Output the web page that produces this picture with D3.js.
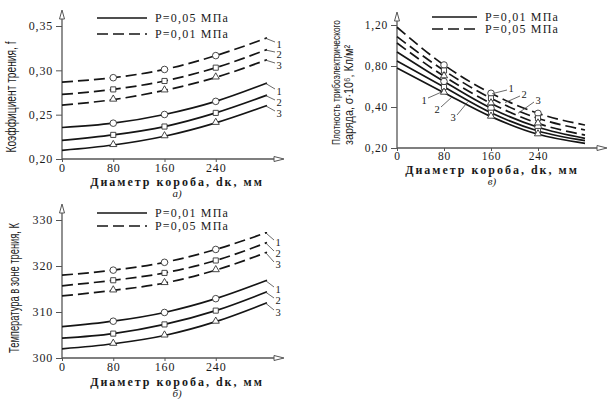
<!DOCTYPE html>
<html>
<head>
<meta charset="utf-8">
<script src="https://cdn.jsdelivr.net/npm/d3@7"></script>
<style>
  body { margin: 0; background: #fff; }
  text { fill: #1a1a1a; }
</style>
</head>
<body>
<svg id="chart" width="615" height="399"></svg>
<script>
// box diameter, mm
var dk = [0, 80, 160, 240, 320];
var xTicks = [0, 80, 160, 240];
var markerDk = [80, 160, 240];

// a) friction coefficient f, curves 1..3
var frictionP005 = [
  [0.2355, 0.2404, 0.2502, 0.2650, 0.2857],
  [0.2211, 0.2272, 0.2366, 0.2520, 0.2720],
  [0.2098, 0.2158, 0.2257, 0.2408, 0.2604]
];
var frictionP001 = [
  [0.2868, 0.2917, 0.3010, 0.3166, 0.3366],
  [0.2728, 0.2785, 0.2880, 0.3030, 0.3234],
  [0.2608, 0.2670, 0.2774, 0.2920, 0.3120]
];
var frictionTicks = [0.20, 0.25, 0.30, 0.35];

// б) temperature in the friction zone, K
var tempP001 = [
  [306.8, 308.0, 309.9, 312.9, 316.9],
  [304.3, 305.3, 307.3, 310.3, 314.4],
  [302.0, 303.1, 304.9, 307.9, 312.0]
];
var tempP005 = [
  [318.0, 319.1, 320.8, 323.6, 327.3],
  [315.7, 316.9, 318.5, 321.2, 325.1],
  [313.5, 314.7, 316.3, 319.1, 323.0]
];
var tempTicks = [300, 310, 320, 330];

// в) triboelectric charge density, sigma*10^6, C/m^2
var chargeP001 = [
  [0.937, 0.649, 0.394, 0.301, 0.247],
  [0.849, 0.595, 0.372, 0.283, 0.236],
  [0.780, 0.540, 0.353, 0.267, 0.223]
];
var chargeP005 = [
  [1.178, 0.810, 0.534, 0.369, 0.312],
  [1.086, 0.756, 0.485, 0.345, 0.288],
  [1.024, 0.700, 0.436, 0.320, 0.263]
];
var chargeTicks = [0.20, 0.40, 0.80, 1.20];

var curveNames = ["1", "2", "3"];

var svg = d3.select("#chart");
var serif = "'Liberation Serif', 'DejaVu Serif', serif";
var narrow = "'Liberation Sans Narrow', 'Liberation Sans', sans-serif";
var ink = "#151515";

function comma(d) { return d3.format(".2f")(d).replace(".", ","); }

function interp(values, x) {
  var i = d3.bisectRight(dk, x) - 1;
  if (i >= dk.length - 1) i = dk.length - 2;
  var t = (x - dk[i]) / (dk[i + 1] - dk[i]);
  return values[i] + t * (values[i + 1] - values[i]);
}

function drawPanel(p) {
  var g = svg.append("g");
  var x = d3.scaleLinear().domain([0, 320]).range([p.x0, p.x1]);
  var y = d3.scaleLinear().domain(p.yDomain).range(p.yRange);
  var y0 = p.yRange[0];

  // axes
  var ya = g.append("g")
    .attr("transform", "translate(" + p.x0 + ",0)")
    .call(d3.axisLeft(y).tickValues(p.yTicks).tickFormat(p.yFormat)
      .tickSizeInner(6).tickSizeOuter(0).tickPadding(3));
  var xa = g.append("g")
    .attr("transform", "translate(0," + y0 + ")")
    .call(d3.axisBottom(x).tickValues(xTicks).tickFormat(d3.format("d"))
      .tickSizeInner(3).tickSizeOuter(0).tickPadding(p.xPad));
  [ya, xa].forEach(function(a) {
    a.select(".domain").remove();
    a.selectAll("line").attr("stroke", "#555");
    a.selectAll("text").attr("font-family", serif).attr("font-size", p.tickSize)
      .attr("letter-spacing", 0.8).attr("fill", "#333");
  });
  g.append("line").attr("x1", p.x0).attr("x2", p.x0).attr("y1", y0).attr("y2", p.yTop + 8)
    .attr("stroke", "#555").attr("stroke-width", 1.3);
  g.append("line").attr("x1", p.x0).attr("x2", p.xEnd - 8).attr("y1", y0).attr("y2", y0)
    .attr("stroke", "#555").attr("stroke-width", 1.3);
  g.append("path")
    .attr("d", "M" + (p.x0 - 2.5) + "," + (p.yTop + 9) + "L" + p.x0 + "," + p.yTop + "L" + (p.x0 + 2.5) + "," + (p.yTop + 9) + "Z")
    .attr("fill", "#fff").attr("stroke", "#555").attr("stroke-width", 1);
  g.append("path")
    .attr("d", "M" + (p.xEnd - 10) + "," + (y0 - 2.5) + "L" + p.xEnd + "," + y0 + "L" + (p.xEnd - 10) + "," + (y0 + 2.5) + "Z")
    .attr("fill", "#fff").attr("stroke", "#555").attr("stroke-width", 1);

  var line = d3.line()
    .x(function(d, i) { return x(dk[i]); })
    .y(function(d) { return y(d); })
    .curve(d3.curveMonotoneX);

  function series(data, dashed) {
    g.selectAll(null).data(data).enter().append("path")
      .attr("d", line)
      .attr("fill", "none")
      .attr("stroke", ink)
      .attr("stroke-width", 1.7)
      .attr("stroke-dasharray", dashed ? "11,5" : null);
    data.forEach(function(vals, k) {
      markerDk.forEach(function(m) {
        var cx = x(m), cy = y(vals[dk.indexOf(m)]);
        var s = g.append("path").attr("fill", "#fff").attr("stroke", "#333").attr("stroke-width", 0.9);
        if (k === 0) s.attr("d", d3.symbol(d3.symbolCircle, 34)()).attr("transform", "translate(" + cx + "," + cy + ")");
        if (k === 1) s.attr("d", d3.symbol(d3.symbolSquare, 26)()).attr("transform", "translate(" + cx + "," + cy + ")");
        if (k === 2) s.attr("d", d3.symbol(d3.symbolTriangle, 22)()).attr("transform", "translate(" + cx + "," + (cy - 0.5) + ")");
      });
    });
  }
  series(p.solid, false);
  series(p.dashed, true);

  // curve labels with leaders
  p.leaders.forEach(function(l) {
    var data = l.dashed ? p.dashed : p.solid;
    var tx = x(l.at), ty = y(interp(data[l.curve], l.at));
    g.append("line").attr("x1", tx).attr("y1", ty).attr("x2", l.lx + l.ax).attr("y2", l.ly + l.ay)
      .attr("stroke", "#444").attr("stroke-width", 0.8);
    g.append("text").attr("x", l.lx).attr("y", l.ly + 3.5)
      .attr("text-anchor", "middle").attr("font-family", serif).attr("font-size", 10.5)
      .text(curveNames[l.name]);
  });

  // legend
  p.legend.forEach(function(item, i) {
    var ly = p.legY + i * p.legStep;
    g.append("line").attr("x1", p.legX).attr("x2", p.legX + p.legW).attr("y1", ly).attr("y2", ly)
      .attr("stroke", ink).attr("stroke-width", 1.7)
      .attr("stroke-dasharray", item.dashed ? "11,5" : null);
    g.append("text").attr("x", p.legX + p.legW + 8).attr("y", ly + 4)
      .attr("font-family", serif).attr("font-size", 12).attr("letter-spacing", 1.2)
      .text(item.label);
  });

  // titles
  g.append("text").attr("x", p.titleX).attr("y", p.titleY).attr("text-anchor", "middle")
    .attr("font-family", serif).attr("font-size", 12).attr("font-weight", "bold")
    .attr("letter-spacing", 2).attr("fill", "#333")
    .text("Диаметр короба, dк, мм");
  g.append("text").attr("x", p.titleX).attr("y", p.titleY + 10.5).attr("text-anchor", "middle")
    .attr("font-family", serif).attr("font-size", 11).attr("font-style", "italic")
    .text(p.tag);
  p.yTitle.forEach(function(t) {
    g.append("text")
      .attr("transform", "translate(" + t.x + "," + t.y + ") rotate(-90)")
      .attr("text-anchor", t.anchor)
      .attr("font-family", narrow).attr("font-size", t.size)
      .attr("textLength", t.len).attr("lengthAdjust", "spacingAndGlyphs")
      .text(t.text);
  });
}

// a)
drawPanel({
  x0: 62, x1: 267, xEnd: 284, yTop: 10, xPad: 1, tickSize: 12,
  yDomain: [0.20, 0.35], yRange: [159, 26], yTicks: frictionTicks, yFormat: comma,
  solid: frictionP005, dashed: frictionP001,
  legend: [{ label: "P=0,05 МПа", dashed: false }, { label: "P=0,01 МПа", dashed: true }],
  legX: 97, legW: 50, legY: 18, legStep: 16,
  titleX: 177, titleY: 186, tag: "а)",
  yTitle: [{ text: "Коэффициент трения, f", x: 16, y: 97, anchor: "middle", size: 14, len: 111 }],
  leaders: [
    { dashed: true, curve: 0, at: 318, name: 0, lx: 279, ly: 44, ax: -4, ay: -2 },
    { dashed: true, curve: 1, at: 318, name: 1, lx: 279, ly: 54, ax: -4, ay: -2 },
    { dashed: true, curve: 2, at: 318, name: 2, lx: 279, ly: 65, ax: -4, ay: -2 },
    { dashed: false, curve: 0, at: 318, name: 0, lx: 279, ly: 91, ax: -4, ay: -2 },
    { dashed: false, curve: 1, at: 318, name: 1, lx: 279, ly: 102, ax: -4, ay: -2 },
    { dashed: false, curve: 2, at: 318, name: 2, lx: 279, ly: 113, ax: -4, ay: -2 }
  ]
});

// б)
drawPanel({
  x0: 62, x1: 267, xEnd: 284, yTop: 204, xPad: 1, tickSize: 12,
  yDomain: [300, 330], yRange: [358, 220], yTicks: tempTicks, yFormat: d3.format("d"),
  solid: tempP001, dashed: tempP005,
  legend: [{ label: "P=0,01 МПа", dashed: false }, { label: "P=0,05 МПа", dashed: true }],
  legX: 97, legW: 50, legY: 213, legStep: 13,
  titleX: 177, titleY: 386, tag: "б)",
  yTitle: [{ text: "Температура в зоне трения, К", x: 19, y: 288, anchor: "middle", size: 14, len: 130 }],
  leaders: [
    { dashed: true, curve: 0, at: 318, name: 0, lx: 278, ly: 242, ax: -4, ay: -2 },
    { dashed: true, curve: 1, at: 318, name: 1, lx: 278, ly: 253, ax: -4, ay: -2 },
    { dashed: true, curve: 2, at: 318, name: 2, lx: 278, ly: 264, ax: -4, ay: -2 },
    { dashed: false, curve: 0, at: 318, name: 0, lx: 278, ly: 289, ax: -4, ay: -2 },
    { dashed: false, curve: 1, at: 318, name: 1, lx: 278, ly: 300, ax: -4, ay: -2 },
    { dashed: false, curve: 2, at: 318, name: 2, lx: 278, ly: 312, ax: -4, ay: -2 }
  ]
});

// в)
drawPanel({
  x0: 397, x1: 585, xEnd: 607, yTop: 12, xPad: 1, tickSize: 11.5,
  yDomain: chargeTicks, yRange: [148, 107, 66, 25], yTicks: chargeTicks, yFormat: comma,
  solid: chargeP001, dashed: chargeP005,
  legend: [{ label: "P=0,01 МПа", dashed: false }, { label: "P=0,05 МПа", dashed: true }],
  legX: 432, legW: 45, legY: 17, legStep: 12,
  titleX: 492, titleY: 174, tag: "в)",
  yTitle: [
    { text: "Плотность трибоэлектрического", x: 340, y: 145, anchor: "start", size: 10.5, len: 125 },
    { text: "заряда, σ·10⁶, Кл/м²", x: 353, y: 145, anchor: "start", size: 12, len: 100 }
  ],
  leaders: [
    { dashed: false, curve: 2, at: 77, name: 0, lx: 424, ly: 100, ax: 4, ay: -2 },
    { dashed: false, curve: 2, at: 95, name: 1, lx: 437, ly: 109, ax: 4, ay: -2 },
    { dashed: false, curve: 2, at: 120, name: 2, lx: 453, ly: 117, ax: 4, ay: -2 },
    { dashed: true, curve: 0, at: 162, name: 0, lx: 511, ly: 88, ax: -4, ay: 2 },
    { dashed: true, curve: 1, at: 184, name: 1, lx: 524, ly: 94, ax: -4, ay: 2 },
    { dashed: true, curve: 2, at: 206, name: 2, lx: 538, ly: 100, ax: -4, ay: 2 }
  ]
});
</script>
</body>
</html>
